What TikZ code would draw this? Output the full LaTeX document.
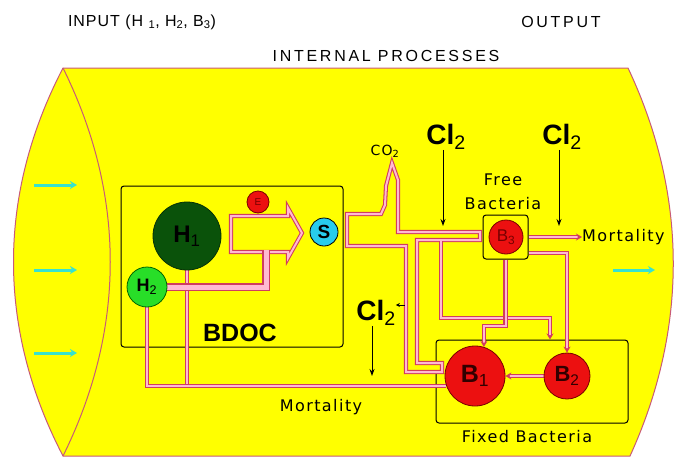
\documentclass[tikz,border=0pt]{standalone}
\usepackage{fontspec}
\setmainfont{DejaVu Sans}
\newfontfamily\ttlfont[LetterSpace=17]{Liberation Sans}
\newfontfamily\ttlnarrow[LetterSpace=6]{Liberation Sans}
\newfontfamily\lblfont[LetterSpace=9]{DejaVu Sans}
\newfontfamily\arialfont{Liberation Sans}
\usetikzlibrary{arrows.meta}
\definecolor{yel}{RGB}{255,255,0}
\definecolor{pipeout}{RGB}{208,60,96}
\definecolor{pipein}{RGB}{255,186,210}
\definecolor{edgecol}{RGB}{200,90,120}
\definecolor{flowcyan}{RGB}{56,226,206}
\definecolor{hone}{RGB}{10,82,10}
\definecolor{htwo}{RGB}{40,222,40}
\definecolor{redball}{RGB}{236,16,16}
\definecolor{darkred}{RGB}{120,0,0}
\definecolor{blackred}{RGB}{50,0,0}
\definecolor{scyan}{RGB}{40,204,236}
\begin{document}
\begin{tikzpicture}[x=1pt,y=-1pt,
  pipe/.style={draw=pipeout, line width=1.05pt, double=pipein, double distance=2pt},
  widepipe/.style={pipe, double distance=5pt},
  pipetip/.style={-{Stealth[length=6pt,width=7pt]}},
  clarrow/.style={draw=black, line width=1pt, -{Stealth[length=7pt,width=5pt]}},
  flow/.style={draw=flowcyan, line width=3pt, -{Stealth[length=7pt,width=8pt]}},
  frame/.style={draw=black, line width=1pt, rounded corners=3pt, inner sep=0pt},
  ball/.style={circle, inner sep=0pt, line width=0.8pt},
  ttl/.style={font={\ttlfont\fontsize{16}{19}\selectfont}, inner sep=0pt},
  lbl/.style={font={\lblfont\fontsize{16}{24}\selectfont}, inner sep=0pt},
  clbig/.style={font={\arialfont\bfseries\fontsize{28}{28}\selectfont}, inner sep=0pt}]
\useasboundingbox (0,0) rectangle (674,458);
% pipe body
\path[fill=yel, draw=edgecol, line width=1pt] (63,68) -- (628,68)
  .. controls (688,195) and (688,329) .. (630,456) -- (63,456)
  .. controls (-3,329) and (-3,195) .. (63,68) -- cycle;
\draw[edgecol, line width=1pt] (63,68) .. controls (126,195) and (126,329) .. (63,456);
% flow arrows
\coordinate (inA) at (34,185); \coordinate (inAe) at (77,185);
\coordinate (inB) at (34,270); \coordinate (inBe) at (77,270);
\coordinate (inC) at (34,353); \coordinate (inCe) at (77,353);
\coordinate (outA) at (613,270); \coordinate (outAe) at (655,270);
\draw[flow] (inA) -- (inAe);
\draw[flow] (inB) -- (inBe);
\draw[flow] (inC) -- (inCe);
\draw[flow] (outA) -- (outAe);
% titles
\node[font={\ttlnarrow\fontsize{16}{19}\selectfont}, inner sep=0pt] (input) at (142,22) {INPUT (H \textsubscript{1}, H\textsubscript{2}, B\textsubscript{3})};
\node[ttl] (output) at (561,22) {OUTPUT};
\node[ttl] (internal) at (386,56) {INTERNAL PROCESSES};
% boxes
\node[frame, minimum width=222pt, minimum height=161pt] (bdocbox) at (232,266.5) {};
\node[frame, minimum width=45pt, minimum height=44pt] (B3box) at (505.5,237) {};
\node[frame, minimum width=192pt, minimum height=83pt] (fixedbox) at (532,381.5) {};
% circle positions
\path (187,236) coordinate (h1c) (147,287) coordinate (h2c) (475,376) coordinate (b1c) (567,376) coordinate (b2c);
\node[ball, minimum size=68pt] (H1) at (h1c) {};
\node[ball, minimum size=40pt] (H2) at (h2c) {};
\node[ball, minimum size=60pt] (B1) at (b1c) {};
\node[ball, minimum size=46pt] (B2) at (b2c) {};
% pipes from B1 back to BDOC
\draw[pipe] (H1.south) -- (H1.south |- B1.200);
\draw[pipe] (B1.200) -- (B1.200 -| H2.south) -- (H2.south);
% hollow conversion arrow and H2 feed
\draw[pipe, fill=yel] (231,216) -- (288,216) -- (288,208) -- (302,233) -- (288,258) -- (288,252) -- (231,252) -- cycle;
\coordinate (hjoin) at (266,287);
\coordinate (arrowbase) at (266,250);
\draw[widepipe] (H2.east) -- (hjoin) -- (arrowbase);
% S outlet with CO2 vent, feed to B3 and B1
\draw[pipe, fill=yel] (347,214) -- (381,214) -- (385,205) -- (386,186) -- (392,163) -- (398,180)
  -- (398,232) -- (480,232) -- (480,240) -- (417,240) -- (417,363) -- (442,363)
  -- (442,372) -- (406,372) -- (406,246) -- (347,246) -- cycle;
\coordinate (brB2) at (441,241);
\coordinate (brB2a) at (441,318);
\coordinate (brB2b) at (550,318);
\draw[pipe, pipetip] (brB2) -- (brB2a) -- (brB2b) -- (brB2b |- fixedbox.north);
% B3 connections
\coordinate (b3drop) at (0,326);
\draw[pipe, pipetip] ([yshift=-16pt]B3box.east) -| (B2.north);
\draw[pipe, pipetip] (B3box.south) |- (B1.73 |- b3drop) -- (B1.73);
% B2 to B1
\draw[pipe, pipetip] (B2.west) -- (B1.east);
% circles on top
\node[ball, fill=hone, draw=hone!60!black, minimum size=68pt,
  font={\arialfont\bfseries\fontsize{24}{24}\selectfont}] at (h1c) {H\textsubscript{\mdseries 1}};
\node[ball, fill=htwo, draw=green!40!black, minimum size=40pt,
  font={\arialfont\bfseries\fontsize{18}{18}\selectfont}] at (h2c) {H\textsubscript{\mdseries 2}};
\node[ball, fill=redball, draw=darkred, minimum size=22pt, text=darkred,
  font={\arialfont\fontsize{10}{10}\selectfont}] (E) at (258,202) {E};
\node[ball, fill=scyan, draw=black, minimum size=28pt,
  font={\arialfont\bfseries\fontsize{19}{19}\selectfont}] (S) at (324,232) {S};
\node[ball, fill=redball, draw=darkred, minimum size=34pt, text=darkred,
  font={\arialfont\fontsize{17}{17}\selectfont}] (B3) at (506,237) {B\textsubscript{3}};
\node[ball, fill=redball, draw=darkred, minimum size=60pt, text=blackred,
  font={\arialfont\bfseries\fontsize{25}{25}\selectfont}] at (b1c) {B\textsubscript{\mdseries 1}};
\node[ball, fill=redball, draw=darkred, minimum size=46pt, text=blackred,
  font={\arialfont\bfseries\fontsize{22}{22}\selectfont}] at (b2c) {B\textsubscript{\mdseries 2}};
% mortality outlet
\node[lbl, anchor=west] (mort1) at (582,237) {Mortality};
\draw[pipe, pipetip] (B3box.east) -- (mort1.west);
% texts
\node[font={\arialfont\bfseries\fontsize{25}{30}\selectfont}, inner sep=0pt] (bdoc) at (240,333) {BDOC};
\node[lbl, align=center] (free) at (503,192) {Free\\Bacteria};
\node[lbl] (mort2) at (321,407) {Mortality};
\node[lbl] (fixed) at (527,437) {Fixed Bacteria};
\node[font={\lblfont\fontsize{14}{16}\selectfont}, inner sep=0pt] (co2) at (385,151) {CO\textsubscript{2}};
\node[clbig] (cl1) at (446,137) {Cl\textsubscript{\mdseries 2}};
\node[clbig] (cl2) at (562,137) {Cl\textsubscript{\mdseries 2}};
\node[clbig] (cl3) at (376,313) {Cl\textsubscript{\mdseries 2}};
\coordinate (cl1end) at (443,226);
\coordinate (cl2end) at (559,226);
\coordinate (cl3end) at (372,376);
\coordinate (cl3in) at (405,305);
\draw[clarrow] (cl1.south -| cl1end) -- (cl1end);
\draw[clarrow] (cl2.south -| cl2end) -- (cl2end);
\draw[clarrow] (cl3.south -| cl3end) -- (cl3end);
\draw[draw=black, line width=0.8pt, -{Stealth[length=4pt,width=4pt]}] (cl3in) -- (cl3.east |- cl3in);
\end{tikzpicture}
\end{document}
